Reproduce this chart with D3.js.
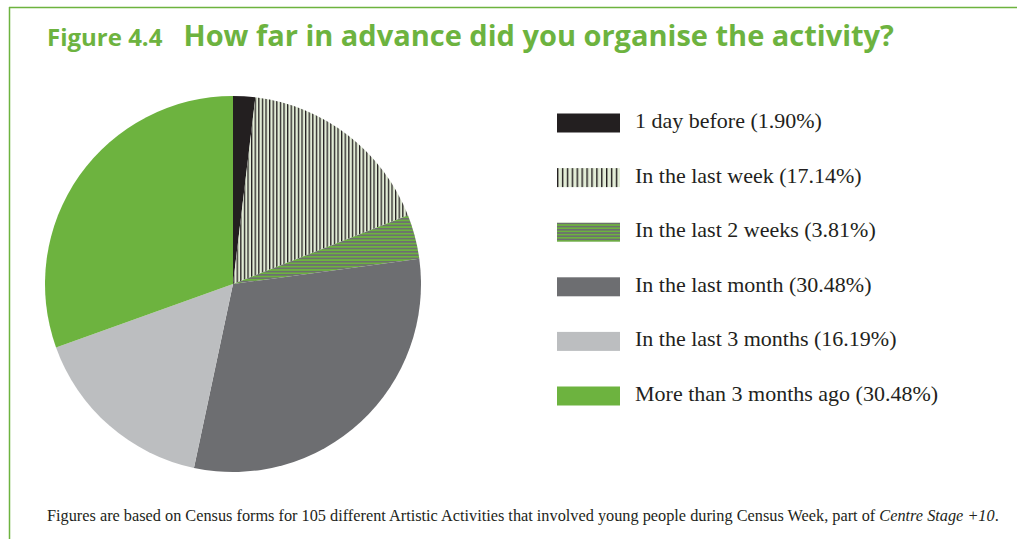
<!DOCTYPE html>
<html>
<head>
<meta charset="utf-8">
<script src="https://cdn.jsdelivr.net/npm/d3@7"></script>
<style>
  html, body { margin: 0; padding: 0; background: #fff; }
  svg { display: block; }
</style>
</head>
<body>
<svg id="chart" width="1017" height="539"></svg>
<script>
// Survey answers: how far in advance the activity was organised (% of 105 activities)
const categories = [
  "1 day before",
  "In the last week",
  "In the last 2 weeks",
  "In the last month",
  "In the last 3 months",
  "More than 3 months ago"
];
const percents = [1.90, 17.14, 3.81, 30.48, 16.19, 30.48];
const fills = ["#231f20", "url(#stripeV)", "url(#stripeH)", "#6d6e71", "#bcbec0", "#6db33f"];
const legendFills = ["#231f20", "url(#stripeVLeg)", "url(#stripeHLeg)", "#6d6e71", "#bcbec0", "#6db33f"];

const green = "#6db33f";
const svg = d3.select("#chart");
const defs = svg.append("defs");

// Vertical black / pale-green stripes
function vPattern(id, period, lineW) {
  const p = defs.append("pattern").attr("id", id).attr("patternUnits", "userSpaceOnUse")
    .attr("width", period).attr("height", 10);
  p.append("rect").attr("width", period).attr("height", 10).attr("fill", "#e2ecd6");
  p.append("rect").attr("width", lineW).attr("height", 10).attr("fill", "#231f20");
}
// Horizontal green / grey stripes
function hPattern(id, period, lineH) {
  const p = defs.append("pattern").attr("id", id).attr("patternUnits", "userSpaceOnUse")
    .attr("width", 10).attr("height", period);
  p.append("rect").attr("width", 10).attr("height", period).attr("fill", green);
  p.append("rect").attr("width", 10).attr("height", lineH).attr("fill", "#6d6e71");
}
vPattern("stripeV", 3.6, 1.3);
vPattern("stripeVLeg", 4.9, 1.4);
hPattern("stripeH", 3.3, 1.6);
hPattern("stripeHLeg", 3.2, 1.6);

// Frame lines (top and left)
svg.append("line").attr("x1", 9).attr("x2", 1017).attr("y1", 7.5).attr("y2", 7.5)
  .attr("stroke", green).attr("stroke-width", 1.5);
svg.append("line").attr("x1", 9.5).attr("x2", 9.5).attr("y1", 7).attr("y2", 539)
  .attr("stroke", green).attr("stroke-width", 1.5);

// Title
const title = svg.append("text").attr("x", 47).attr("y", 46)
  .attr("font-family", "'Open Sans', 'Noto Sans', sans-serif").attr("font-weight", 700)
  .attr("fill", green);
title.append("tspan").attr("font-size", 24).text("Figure 4.4");
title.append("tspan").attr("font-size", 29).attr("dx", 21)
  .text("How far in advance did you organise the activity?");

// Pie
const cx = 233, cy = 284, r = 188;
const pie = d3.pie().sort(null).value(d => d)(percents);
const arc = d3.arc().innerRadius(0).outerRadius(r);
svg.append("g").attr("transform", `translate(${cx},${cy})`)
  .selectAll("path").data(pie).join("path")
  .attr("d", arc)
  .attr("fill", (d, i) => fills[i]);

// Legend
const legY = d3.scalePoint().domain(categories).range([123, 396]);
const leg = svg.append("g").selectAll("g").data(categories).join("g")
  .attr("transform", d => `translate(557,${legY(d)})`);
leg.append("rect").attr("x", 0).attr("y", -9.5).attr("width", 63).attr("height", 19)
  .attr("fill", (d, i) => legendFills[i]);
leg.append("text").attr("x", 78).attr("y", 5)
  .attr("font-family", "'Liberation Serif', 'DejaVu Serif', serif").attr("font-size", 22)
  .attr("fill", "#231f20")
  .text((d, i) => `${d} (${percents[i].toFixed(2)}%)`);

// Footnote
const note = svg.append("text").attr("x", 47).attr("y", 521)
  .attr("font-family", "'Liberation Serif', 'DejaVu Serif', serif").attr("font-size", 16.3)
  .attr("fill", "#231f20");
note.append("tspan")
  .text("Figures are based on Census forms for 105 different Artistic Activities that involved young people during Census Week, part of ");
note.append("tspan").attr("font-style", "italic").text("Centre Stage +10");
note.append("tspan").text(".");
</script>
</body>
</html>
